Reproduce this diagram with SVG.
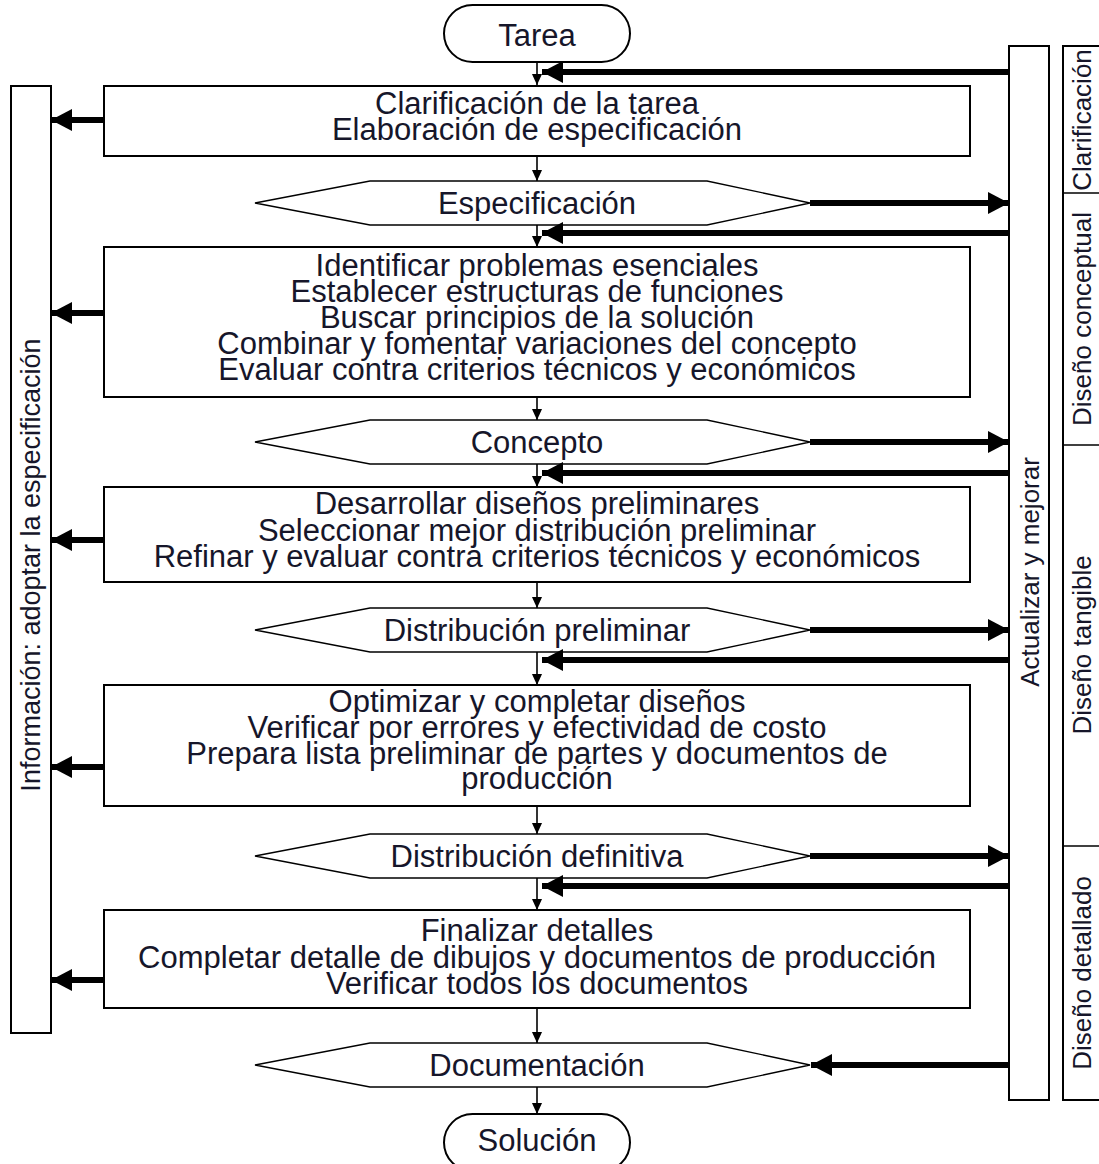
<svg xmlns="http://www.w3.org/2000/svg" width="1099" height="1164" viewBox="0 0 1099 1164">
<defs>
<style>
.t{font-family:"Liberation Sans",Arial,sans-serif;font-size:31px;fill:#16162a;text-anchor:middle}
.r{font-family:"Liberation Sans",Arial,sans-serif;font-size:26px;fill:#16162a;text-anchor:middle;dominant-baseline:central}
.box{fill:#fff;stroke:#000;stroke-width:2}
.hex{fill:#fff;stroke:#000;stroke-width:1.3}
.thin{stroke:#000;stroke-width:1.6;fill:none}
.thick{stroke:#000;stroke-width:6;fill:none}
</style>
<marker id="ah" markerUnits="userSpaceOnUse" markerWidth="11" markerHeight="12" refX="12" refY="5.5" orient="auto" viewBox="0 0 12 11">
<path d="M0,0 L12,5.5 L0,11 z" fill="#000"/>
</marker>
<marker id="AH" markerUnits="userSpaceOnUse" markerWidth="21" markerHeight="22" refX="21" refY="11" orient="auto" viewBox="0 0 21 22">
<path d="M0,0 L21,11 L0,22 z" fill="#000"/>
</marker>
</defs>
<rect width="1099" height="1164" fill="#fff"/>

<g id="phases">
<rect x="1063" y="46" width="45" height="1054" class="box"/>
<line x1="1063" y1="193" x2="1099" y2="193" class="thin"/>
<line x1="1063" y1="445" x2="1099" y2="445" class="thin"/>
<line x1="1063" y1="846" x2="1099" y2="846" class="thin"/>
<text class="r" transform="translate(1082,120) rotate(-90)">Clarificación</text>
<text class="r" transform="translate(1082,319) rotate(-90)">Diseño conceptual</text>
<text class="r" transform="translate(1082,645) rotate(-90)">Diseño tangible</text>
<text class="r" transform="translate(1082,973) rotate(-90)">Diseño detallado</text>
</g>

<g id="actualizar">
<rect x="1009" y="46" width="40" height="1054" class="box"/>
<text class="r" transform="translate(1030,572) rotate(-90)">Actualizar y mejorar</text>
</g>

<g id="informacion">
<rect x="11" y="86" width="40" height="947" class="box"/>
<text class="r" style="font-size:27px" transform="translate(31,565) rotate(-90)">Información: adoptar la especificación</text>
</g>

<g id="tarea">
<rect x="444" y="5" width="186" height="57" rx="28.5" class="box" stroke-width="1.5"/>
<text class="t" x="537" y="46">Tarea</text>
</g>

<g id="box1">
<rect x="104" y="86" width="866" height="70" class="box"/>
<text class="t" x="537" y="114">Clarificación de la tarea</text>
<text class="t" x="537" y="140">Elaboración de especificación</text>
</g>

<g id="hex1">
<polygon points="255,203 370,181 707,181 810,203 707,225 370,225" class="hex"/>
<text class="t" x="537" y="214">Especificación</text>
</g>

<g id="box2">
<rect x="104" y="247" width="866" height="150" class="box"/>
<text class="t" x="537" y="276">Identificar problemas esenciales</text>
<text class="t" x="537" y="302">Establecer estructuras de funciones</text>
<text class="t" x="537" y="328">Buscar principios de la solución</text>
<text class="t" x="537" y="354">Combinar y fomentar variaciones del concepto</text>
<text class="t" x="537" y="380">Evaluar contra criterios técnicos y económicos</text>
</g>

<g id="hex2">
<polygon points="255,442 370,420 707,420 810,442 707,464 370,464" class="hex"/>
<text class="t" x="537" y="453">Concepto</text>
</g>

<g id="box3">
<rect x="104" y="487" width="866" height="95" class="box"/>
<text class="t" x="537" y="514">Desarrollar diseños preliminares</text>
<text class="t" x="537" y="541">Seleccionar mejor distribución preliminar</text>
<text class="t" x="537" y="567">Refinar y evaluar contra criterios técnicos y económicos</text>
</g>

<g id="hex3">
<polygon points="255,630 370,608 707,608 810,630 707,652 370,652" class="hex"/>
<text class="t" x="537" y="641">Distribución preliminar</text>
</g>

<g id="box4">
<rect x="104" y="685" width="866" height="121" class="box"/>
<text class="t" x="537" y="712">Optimizar y completar diseños</text>
<text class="t" x="537" y="738">Verificar por errores y efectividad de costo</text>
<text class="t" x="537" y="764">Prepara lista preliminar de partes y documentos de</text>
<text class="t" x="537" y="789">producción</text>
</g>

<g id="hex4">
<polygon points="255,856 370,834 707,834 810,856 707,878 370,878" class="hex"/>
<text class="t" x="537" y="867">Distribución definitiva</text>
</g>

<g id="box5">
<rect x="104" y="910" width="866" height="98" class="box"/>
<text class="t" x="537" y="941">Finalizar detalles</text>
<text class="t" x="537" y="968">Completar detalle de dibujos y documentos de producción</text>
<text class="t" x="537" y="994">Verificar todos los documentos</text>
</g>

<g id="hex5">
<polygon points="255,1065 370,1043 707,1043 810,1065 707,1087 370,1087" class="hex"/>
<text class="t" x="537" y="1076">Documentación</text>
</g>

<g id="solucion">
<rect x="444" y="1114" width="186" height="57" rx="28.5" class="box" stroke-width="1.5"/>
<text class="t" x="537" y="1151">Solución</text>
</g>

<g id="connectors">
<g class="thin" marker-end="url(#ah)">
<line x1="537" y1="62" x2="537" y2="85"/>
<line x1="537" y1="156" x2="537" y2="181"/>
<line x1="537" y1="225" x2="537" y2="247"/>
<line x1="537" y1="397" x2="537" y2="420"/>
<line x1="537" y1="464" x2="537" y2="487"/>
<line x1="537" y1="582" x2="537" y2="608"/>
<line x1="537" y1="652" x2="537" y2="685"/>
<line x1="537" y1="806" x2="537" y2="834"/>
<line x1="537" y1="878" x2="537" y2="910"/>
<line x1="537" y1="1008" x2="537" y2="1043"/>
<line x1="537" y1="1087" x2="537" y2="1114"/>
</g>
<g class="thick" marker-end="url(#AH)">
<line x1="1009" y1="72" x2="542" y2="72"/>
<line x1="1009" y1="233" x2="542" y2="233"/>
<line x1="1009" y1="473" x2="542" y2="473"/>
<line x1="1009" y1="660" x2="542" y2="660"/>
<line x1="1009" y1="886" x2="542" y2="886"/>
<line x1="810" y1="203" x2="1009" y2="203"/>
<line x1="810" y1="442" x2="1009" y2="442"/>
<line x1="810" y1="630" x2="1009" y2="630"/>
<line x1="810" y1="856" x2="1009" y2="856"/>
<line x1="1009" y1="1065" x2="811" y2="1065"/>
<line x1="104" y1="120" x2="51" y2="120"/>
<line x1="104" y1="313" x2="51" y2="313"/>
<line x1="104" y1="540" x2="51" y2="540"/>
<line x1="104" y1="767" x2="51" y2="767"/>
<line x1="104" y1="980" x2="51" y2="980"/>
</g>
</g>
</svg>
